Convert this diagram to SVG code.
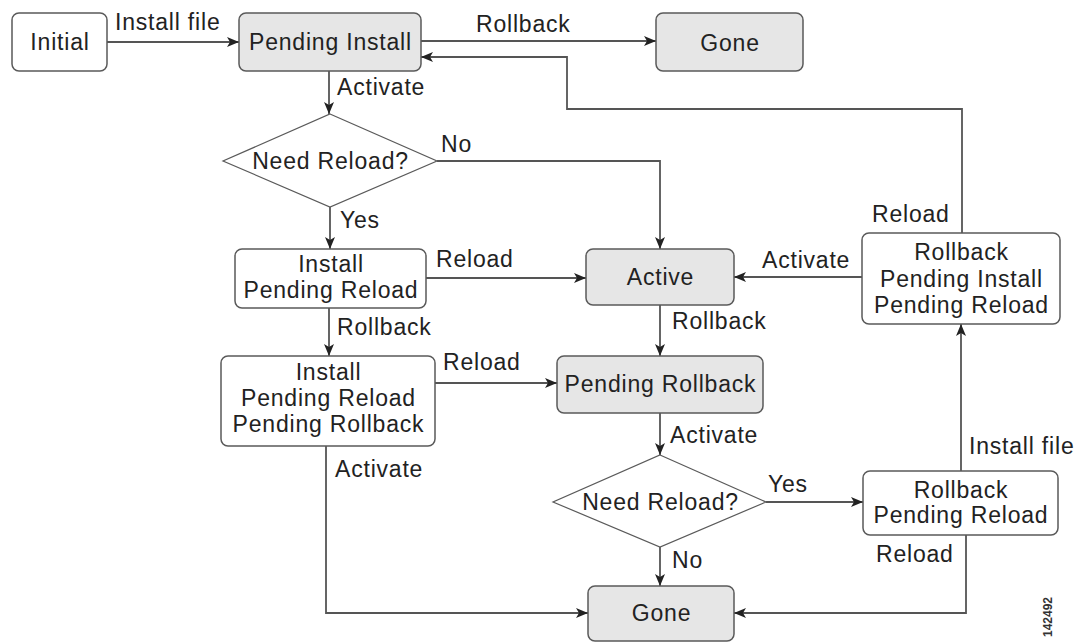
<svg xmlns="http://www.w3.org/2000/svg" width="1084" height="644" viewBox="0 0 1084 644">
<style>
  .box { fill: #ffffff; stroke: #5a5a5a; stroke-width: 1.5; }
  .gray { fill: #e6e6e6; stroke: #5a5a5a; stroke-width: 1.5; }
  .dia { fill: #ffffff; stroke: #5a5a5a; stroke-width: 1.2; }
  .t { font-family: "Liberation Sans", Arial, sans-serif; font-size: 23px; fill: #222222; letter-spacing: 0.8px; }
  .c { text-anchor: middle; }
  .edge { fill: none; stroke: #555555; stroke-width: 1.8; }
  .arr { marker-end: url(#ah); }
  .wm { font-family: "Liberation Sans", Arial, sans-serif; font-size: 12px; font-weight: bold; fill: #333333; }
</style>
<defs>
  <marker id="ah" markerUnits="userSpaceOnUse" markerWidth="14" markerHeight="10" refX="12" refY="5" orient="auto">
    <path d="M0,0 L12,5 L0,10 L3,5 z" fill="#222222"/>
  </marker>
</defs>
<rect width="1084" height="644" fill="#ffffff"/>

<g id="connectors">
  <path class="edge arr" d="M107 42 H239"/>
  <path class="edge arr" d="M421 41 H656"/>
  <path class="edge arr" d="M962 233 V109 H567 V57 H421"/>
  <path class="edge arr" d="M329 71 V114"/>
  <path class="edge arr" d="M437 161 H660 V249"/>
  <path class="edge arr" d="M330 207 V249"/>
  <path class="edge arr" d="M426 278 H586"/>
  <path class="edge arr" d="M329 308 V356"/>
  <path class="edge arr" d="M435 383 H557"/>
  <path class="edge arr" d="M862 277 H734"/>
  <path class="edge arr" d="M660 305 V356"/>
  <path class="edge arr" d="M660 413 V455"/>
  <path class="edge arr" d="M766 502 H863"/>
  <path class="edge arr" d="M660 547 V586"/>
  <path class="edge arr" d="M961 471 V324"/>
  <path class="edge arr" d="M966 535 V613 H734"/>
  <path class="edge arr" d="M326 446 V613 H588"/>

  <text class="t" x="115" y="30">Install file</text>
  <text class="t" x="476" y="32">Rollback</text>
  <text class="t" x="337" y="95">Activate</text>
  <text class="t" x="441" y="152">No</text>
  <text class="t" x="340" y="228">Yes</text>
  <text class="t" x="436" y="267">Reload</text>
  <text class="t" x="762" y="268">Activate</text>
  <text class="t" x="872" y="222">Reload</text>
  <text class="t" x="672" y="329">Rollback</text>
  <text class="t" x="337" y="335">Rollback</text>
  <text class="t" x="443" y="370">Reload</text>
  <text class="t" x="335" y="477">Activate</text>
  <text class="t" x="670" y="443">Activate</text>
  <text class="t" x="768" y="492">Yes</text>
  <text class="t" x="672" y="568">No</text>
  <text class="t" x="969" y="454">Install file</text>
  <text class="t" x="876" y="562">Reload</text>
</g>

<g id="initial">
  <rect class="box" x="12" y="13" width="95" height="58" rx="7"/>
  <text class="t c" x="60" y="50">Initial</text>
</g>
<g id="pending-install">
  <rect class="gray" x="239" y="13" width="182" height="58" rx="7"/>
  <text class="t c" x="330.5" y="50">Pending Install</text>
</g>
<g id="gone-top">
  <rect class="gray" x="656" y="13" width="147" height="58" rx="7"/>
  <text class="t c" x="730" y="51">Gone</text>
</g>
<g id="need-reload-1">
  <polygon class="dia" points="330,114 437,161 330,207 223,161"/>
  <text class="t c" x="330.5" y="169">Need Reload?</text>
</g>
<g id="install-pending-reload">
  <rect class="box" x="235" y="249" width="191" height="59" rx="7"/>
  <text class="t c" x="331" y="272">Install</text>
  <text class="t c" x="331" y="298">Pending Reload</text>
</g>
<g id="active">
  <rect class="gray" x="586" y="249" width="148" height="56" rx="7"/>
  <text class="t c" x="660.5" y="285">Active</text>
</g>
<g id="rollback-pending-install-pending-reload">
  <rect class="box" x="862" y="233" width="198" height="91" rx="7"/>
  <text class="t c" x="961.5" y="260">Rollback</text>
  <text class="t c" x="961.5" y="287">Pending Install</text>
  <text class="t c" x="961.5" y="313">Pending Reload</text>
</g>
<g id="install-pending-reload-pending-rollback">
  <rect class="box" x="221" y="356" width="214" height="90" rx="7"/>
  <text class="t c" x="328.5" y="380">Install</text>
  <text class="t c" x="328.5" y="406">Pending Reload</text>
  <text class="t c" x="328.5" y="432">Pending Rollback</text>
</g>
<g id="pending-rollback">
  <rect class="gray" x="557" y="356" width="206" height="57" rx="7"/>
  <text class="t c" x="660.5" y="392">Pending Rollback</text>
</g>
<g id="need-reload-2">
  <polygon class="dia" points="660,455 766,502 660,547 553,502"/>
  <text class="t c" x="660.5" y="510">Need Reload?</text>
</g>
<g id="rollback-pending-reload">
  <rect class="box" x="863" y="471" width="195" height="64" rx="7"/>
  <text class="t c" x="961" y="498">Rollback</text>
  <text class="t c" x="961" y="523">Pending Reload</text>
</g>
<g id="gone-bottom">
  <rect class="gray" x="588" y="586" width="146" height="55" rx="7"/>
  <text class="t c" x="661.5" y="621">Gone</text>
</g>
<text class="wm" transform="translate(1052,637) rotate(-90)">142492</text>
</svg>
